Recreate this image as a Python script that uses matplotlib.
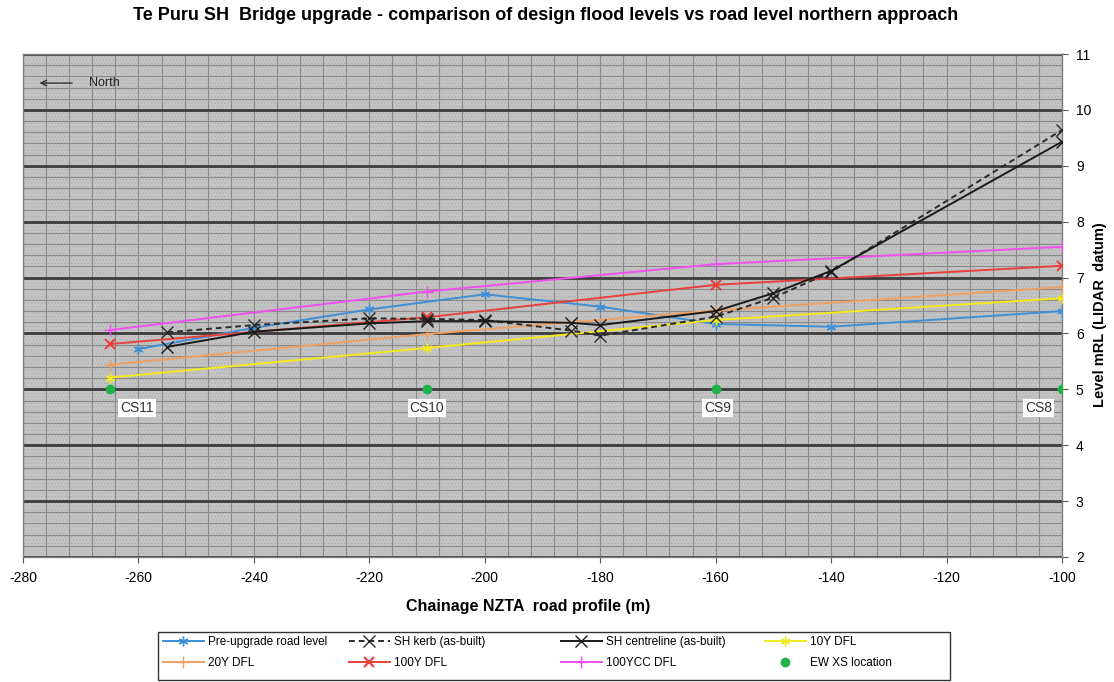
import matplotlib
matplotlib.use("Agg")
import matplotlib.pyplot as plt
from matplotlib.ticker import MultipleLocator
from matplotlib.patches import Rectangle

plt.rcParams['font.family'] = ['Liberation Sans', 'DejaVu Sans']
plt.rcParams['hatch.linewidth'] = 0.6
plt.rcParams['axes.unicode_minus'] = False

# ---- data ----
pre_x = [-260, -240, -220, -200, -180, -160, -140, -100]
pre_y = [5.72, 6.10, 6.43, 6.70, 6.48, 6.17, 6.12, 6.40]

kerb_x = [-255, -240, -220, -210, -200, -185, -180, -160, -150, -140, -100]
kerb_y = [6.02, 6.15, 6.27, 6.26, 6.24, 6.05, 5.96, 6.30, 6.64, 7.10, 9.64]

centre_x = [-255, -240, -220, -210, -200, -185, -180, -160, -150, -140, -100]
centre_y = [5.76, 6.03, 6.18, 6.22, 6.22, 6.19, 6.15, 6.40, 6.72, 7.12, 9.43]

dfl_x = [-265, -210, -160, -100]
dfl10 = [5.21, 5.74, 6.24, 6.63]
dfl20 = [5.44, 5.99, 6.41, 6.83]
dfl100 = [5.81, 6.29, 6.87, 7.21]
dfl100cc = [6.06, 6.75, 7.24, 7.55]

xs_x = [-265, -210, -160, -100]
xs_y = [5, 5, 5, 5]
xs_labels = ['CS11', 'CS10', 'CS9', 'CS8']
xs_label_x = [-260.2, -210, -159.6, -104]

W, H = 1114, 682
fig = plt.figure(figsize=(W / 100, H / 100), dpi=100)
ax = fig.add_axes([23 / W, 1 - 557 / H, (1062 - 23) / W, (557 - 54) / H])

ax.set_xlim(-280, -100)
ax.set_ylim(2, 11)
ax.set_facecolor('#c4c4c4')
ax.add_patch(Rectangle((0, 0), 1, 1, transform=ax.transAxes, facecolor='none',
                       edgecolor='#b0b0b0', hatch='.....', lw=0, zorder=0))

ax.xaxis.set_major_locator(MultipleLocator(20))
ax.xaxis.set_minor_locator(MultipleLocator(4))
ax.yaxis.set_major_locator(MultipleLocator(1))
ax.yaxis.set_minor_locator(MultipleLocator(0.2))

ax.grid(which='minor', axis='both', color='#8a8a8a', lw=0.8, zorder=1)
ax.grid(which='major', axis='x', color='#8a8a8a', lw=0.8, zorder=1)
ax.grid(which='major', axis='y', color='#3c3c3c', lw=2.0, zorder=1)
ax.set_axisbelow(True)

for s in ax.spines.values():
    s.set_color('#808080')
    s.set_linewidth(1.0)

ax.yaxis.tick_right()
ax.yaxis.set_label_position('right')
ax.tick_params(which='minor', length=0)
ax.tick_params(which='major', length=4, color='#555555', labelsize=10, pad=6)

lw = 1.4
h_pre, = ax.plot(pre_x, pre_y, color='#3d8fd6', lw=lw, marker=(6, 2, 0), ms=7, mew=1.0,
                 label='Pre-upgrade road level', zorder=3)
h_kerb, = ax.plot(kerb_x, kerb_y, color='#2a2a2a', lw=lw, ls=(0, (3, 2)), marker='x', ms=8, mew=1.0,
                  label='SH kerb (as-built)', zorder=4)
h_cen, = ax.plot(centre_x, centre_y, color='#1a1a1a', lw=lw, marker='x', ms=8, mew=1.0,
                 label='SH centreline (as-built)', zorder=4)
h_10, = ax.plot(dfl_x, dfl10, color='#f2ea1c', lw=lw, marker=(6, 2, 0), ms=7, mew=1.0,
                label='10Y DFL', zorder=3)
h_20, = ax.plot(dfl_x, dfl20, color='#f0a060', lw=lw, marker='+', ms=8, mew=1.0,
                label='20Y DFL', zorder=3)
h_100, = ax.plot(dfl_x, dfl100, color='#e8403a', lw=lw, marker='x', ms=7, mew=1.5,
                 label='100Y DFL', zorder=3)
h_cc, = ax.plot(dfl_x, dfl100cc, color='#f050f0', lw=lw, marker='+', ms=8, mew=1.0,
                label='100YCC DFL', zorder=3)
h_xs, = ax.plot(xs_x, xs_y, ls='none', marker='o', ms=6, color='#1fb14a',
                label='EW XS location', zorder=5)

for lx, lab in zip(xs_label_x, xs_labels):
    ax.text(lx, 4.67, lab, ha='center', va='center', fontsize=10, color='#333333',
            bbox=dict(facecolor='white', edgecolor='none', pad=1.5), zorder=6)

ax.annotate('', xy=(-277.6, 10.48), xytext=(-271.0, 10.48),
            arrowprops=dict(arrowstyle='->', color='#222222', lw=0.9))
ax.text(-268.6, 10.48, 'North', ha='left', va='center', fontsize=9, color='#222222')

ax.set_xlabel('Chainage NZTA  road profile (m)', fontsize=11.5, fontweight='bold', va='center')
ax.xaxis.set_label_coords((528 - 23) / (1062 - 23), -(607 - 557) / (557 - 54))
ax.set_ylabel('Level mRL (LIDAR  datum)', fontsize=10.5, fontweight='bold', rotation=90, va='center')
ax.yaxis.set_label_coords((1100 - 23) / (1062 - 23), (557 - 315) / (557 - 54))

fig.text(546 / W, 1 - 16 / H,
         'Te Puru SH  Bridge upgrade - comparison of design flood levels vs road level northern approach',
         ha='center', va='center', fontsize=13, fontweight='bold')

# legend: frame plus four single-column legends laid out row-major like the reference
box_l, box_r, box_t, box_b = 158, 950, 632, 680
fig.patches.append(Rectangle((box_l / W, 1 - box_b / H), (box_r - box_l) / W, (box_b - box_t) / H,
                             transform=fig.transFigure, facecolor='white', edgecolor='#333333',
                             lw=1.0, zorder=5))
cols = [([h_pre, h_20], 161), ([h_kerb, h_100], 347), ([h_cen, h_cc], 559), ([h_10, h_xs], 763)]
for handles, xpix in cols:
    lg = fig.legend(handles=handles, labels=[h.get_label() for h in handles],
                    loc='upper left', bbox_to_anchor=(xpix / W, 1 - (box_t + 2) / H),
                    frameon=False, fontsize=8.5, handlelength=3.4, handletextpad=0.35,
                    labelspacing=0.75, borderpad=0.2, borderaxespad=0)
    lg.set_zorder(6)

fig.savefig('out.png', dpi=100)
